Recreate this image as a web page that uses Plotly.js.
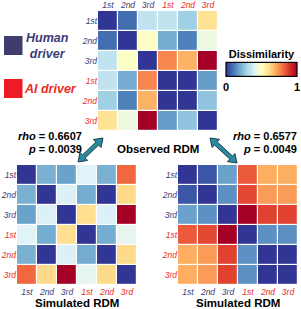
<!DOCTYPE html>
<html>
<head>
<meta charset="utf-8">
<script src="https://cdn.plot.ly/plotly-3.0.1.min.js"></script>
<style>html,body{margin:0;padding:0;background:#fff;}#chart{width:301px;height:309px;}</style>
</head>
<body>
<div id="chart"></div>
<script>
// ---- data ----
const conditionLabels = ['1st','2nd','3rd','1st','2nd','3rd'];
const conditionGroups = ['human','human','human','ai','ai','ai'];

const observedRDM = [
  [0.00, 0.09, 0.34, 0.34, 0.28, 0.59],
  [0.09, 0.00, 0.49, 0.20, 0.12, 0.445],
  [0.34, 0.49, 0.00, 0.76, 0.69, 1.00],
  [0.34, 0.20, 0.76, 0.00, 0.00, 0.17],
  [0.28, 0.12, 0.69, 0.00, 0.00, 0.25],
  [0.59, 0.445, 1.00, 0.17, 0.25, 0.00]
];
const simulatedRDM1 = [
  [0.00, 0.21, 0.18, 0.40, 0.21, 0.81],
  [0.21, 0.00, 0.39, 0.20, 0.00, 0.61],
  [0.18, 0.39, 0.00, 0.60, 0.39, 1.00],
  [0.40, 0.20, 0.60, 0.00, 0.20, 0.42],
  [0.21, 0.00, 0.39, 0.20, 0.00, 0.61],
  [0.81, 0.61, 1.00, 0.42, 0.61, 0.00]
];
const simulatedRDM2 = [
  [0.00, 0.05, 0.18, 0.83, 0.70, 0.70],
  [0.05, 0.00, 0.15, 0.86, 0.73, 0.73],
  [0.18, 0.15, 0.00, 1.00, 0.87, 0.87],
  [0.83, 0.86, 1.00, 0.00, 0.15, 0.15],
  [0.70, 0.73, 0.87, 0.15, 0.00, 0.00],
  [0.70, 0.73, 0.87, 0.15, 0.00, 0.00]
];
const rhoValues = ['0.6607', '0.6577'];
const pValues = ['0.0039', '0.0049'];
const panelTitles = ['Observed RDM', 'Simulated RDM', 'Simulated RDM'];
const colorbarTitle = 'Dissimilarity';
const legendLabels = ['Human<br>driver', 'AI driver'];

// ---- styling ----
const W = 301, H = 309;
const NAVY = '#3b3b78', RED = '#ee2a24';
const FONT = 'Liberation Sans, Arial, sans-serif';
const RdYlBu_r = ['#313695','#4575b4','#74add1','#abd9e9','#e0f3f8','#ffffbf','#fee090','#fdae61','#f46d43','#d73027','#a50026'];
const colorscale = RdYlBu_r.map((c,i)=>[i/(RdYlBu_r.length-1), c]);

const px = x => x / W;
const py = y => 1 - y / H;

const idx = conditionLabels.map((_,i)=>i);
const tickText = conditionLabels.map((c,i)=>`<span style="color:${conditionGroups[i]==='human'?NAVY:RED}">${c}</span>`);

function hm(z, xa, ya, showscale) {
  const t = {
    type:'heatmap', z:z, x:idx, y:idx, xaxis:xa, yaxis:ya,
    zmin:0, zmax:1, colorscale:colorscale, xgap:1.2, ygap:1.2,
    showscale:showscale, hoverinfo:'skip'
  };
  if (showscale) {
    t.colorbar = {
      orientation:'h', x:px(261.5), xanchor:'center', y:py(70), yanchor:'middle',
      len:71/W, lenmode:'fraction', thickness:14, thicknessmode:'pixels',
      xpad:0, ypad:0, outlinewidth:1.2, outlinecolor:'#000',
      tickvals:[0,1], ticktext:['0','1'], ticks:'', ticklabelposition:'outside',
      tickfont:{family:FONT, size:11, color:'#000', weight:'bold'},
      title:{text:colorbarTitle, side:'top', font:{family:FONT, size:11, color:'#000', weight:'bold'}}
    };
  }
  return t;
}

const tickFont = {family:FONT, size:8.5, style:'italic', color:NAVY};
function ax(domain, side, isY) {
  return {
    domain:domain, range: isY ? [5.5,-0.5] : [-0.5,5.5], side:side,
    tickvals:idx, ticktext:tickText, tickfont:tickFont, ticks:'',
    showgrid:false, zeroline:false, showline:false, fixedrange:true
  };
}

const data = [
  hm(observedRDM, 'x', 'y', true),
  hm(simulatedRDM1, 'x2', 'y2', false),
  hm(simulatedRDM2, 'x3', 'y3', false)
];

// double-headed arrow polygon
function arrowPath(x1,y1,x2,y2){
  const dx=x2-x1, dy=y2-y1, L=Math.hypot(dx,dy);
  const ux=dx/L, uy=dy/L, nx=-uy, ny=ux;
  const hl=8, hw=5.5, sw=2;
  const pts=[];
  const P=(t,w)=>[x1+ux*t+nx*w, y1+uy*t+ny*w];
  pts.push(P(0,0), P(hl,hw), P(hl,sw), P(L-hl,sw), P(L-hl,hw), P(L,0), P(L-hl,-hw), P(L-hl,-sw), P(hl,-sw), P(hl,-hw));
  return 'M'+pts.map(p=>px(p[0]).toFixed(5)+','+py(p[1]).toFixed(5)).join(' L')+' Z';
}

const shapes = [
  {type:'rect', xref:'paper', yref:'paper', x0:px(4), x1:px(22.5), y0:py(55), y1:py(36), fillcolor:'#3f3d70', line:{width:0}},
  {type:'rect', xref:'paper', yref:'paper', x0:px(4), x1:px(22.5), y0:py(98), y1:py(79), fillcolor:'#ed1c24', line:{width:0}},
  {type:'path', xref:'paper', yref:'paper', path:arrowPath(78,162,103,138), fillcolor:'#2a8aa0', line:{color:'#1c3f4f', width:1}},
  {type:'path', xref:'paper', yref:'paper', path:arrowPath(237,163,210,138), fillcolor:'#2a8aa0', line:{color:'#1c3f4f', width:1}}
];

const bold = (s,sz,c)=>({family:FONT, size:sz, color:c||'#000', weight:'bold'});
const ann = (text,x,y,xanchor,font)=>({text:text, xref:'paper', yref:'paper', x:px(x), y:py(y), xanchor:xanchor, yanchor:'middle', showarrow:false, font:font});
const annotations = [
  ann(`<i>${legendLabels[0]}</i>`, 47.5, 46, 'center', bold('',12.5,NAVY)),
  ann(`<i>${legendLabels[1]}</i>`, 50, 88.5, 'center', bold('',12.5,RED)),
  ann(`<i>rho</i> = ${rhoValues[0]}`, 84, 136, 'right', bold('',11)),
  ann(`<i>p</i> = ${pValues[0]}`, 84, 148.5, 'right', bold('',11)),
  ann(`<i>rho</i> = ${rhoValues[1]}`, 299, 136, 'right', bold('',11)),
  ann(`<i>p</i> = ${pValues[1]}`, 299, 148.5, 'right', bold('',11)),
  ann(panelTitles[0], 157.5, 148.5, 'center', bold('',11.5)),
  ann(panelTitles[1], 77, 303, 'center', bold('',11.5)),
  ann(panelTitles[2], 238, 303, 'center', bold('',11.5))
];

const layout = {
  width:W, height:H, margin:{l:0,r:0,t:0,b:0}, paper_bgcolor:'#fff', plot_bgcolor:'#fff',
  showlegend:false, font:{family:FONT},
  xaxis: ax([px(98), px(218)], 'top', false),
  yaxis: ax([py(131), py(11)], 'left', true),
  xaxis2: Object.assign(ax([px(17), px(137)], 'bottom', false), {anchor:'y2'}),
  yaxis2: Object.assign(ax([py(285), py(165)], 'left', true), {anchor:'x2'}),
  xaxis3: Object.assign(ax([px(178), px(298)], 'bottom', false), {anchor:'y3'}),
  yaxis3: Object.assign(ax([py(285), py(165)], 'left', true), {anchor:'x3'}),
  shapes:shapes, annotations:annotations
};
layout.yaxis.anchor='x'; layout.xaxis.anchor='y';

Plotly.newPlot('chart', data, layout, {displayModeBar:false, staticPlot:true});
</script>
</body>
</html>
